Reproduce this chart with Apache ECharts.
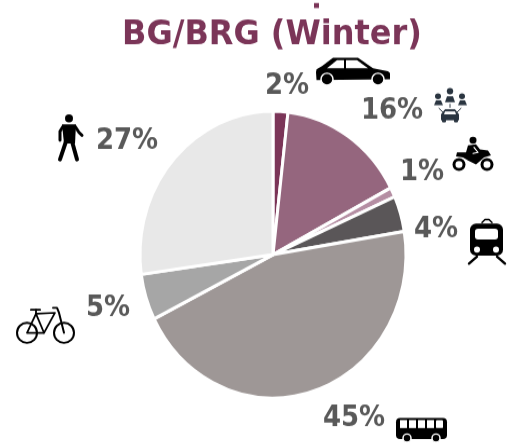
<!DOCTYPE html>
<html><head><meta charset="utf-8">
<style>html,body{margin:0;padding:0;background:#fff;height:446px;width:518px}#c{width:518px;height:414.5px;transform:scaleY(1.076);transform-origin:0 0}</style>
<script src="https://cdn.jsdelivr.net/npm/echarts@6/dist/echarts.min.js"></script>
</head><body><div id="c"></div>
<script>
const titleText = 'BG/BRG (Winter)';
const categories = ['Car','Carpool','Motorcycle','Train','Bus','Bicycle','Walking'];
const values = [1.8,15.5,1.1,4,45.2,5.2,27.2];
const colors = ['#7b3558','#95667e','#b58ea3','#5a5658','#9e9796','#a6a6a6','#e8e8e8'];
const labelCenters = [[287,86],[392,111],[422,172],[436,229],[354,418],[108,308],[127,141]];
const S = 1.076;
const K='#000', W='#fff', D='#2a3540';
const poly=(p,f=K)=>({type:'polygon',shape:{points:p},style:{fill:f},silent:true});
const circ=(x,y,r,f=K,s,lw)=>({type:'circle',shape:{cx:x,cy:y,r},style:{fill:f,stroke:s||null,lineWidth:lw||0},silent:true});
const rect=(x,y,w,h,r,f=K)=>({type:'rect',shape:{x,y,width:w,height:h,r},style:{fill:f},silent:true});
const line=(p,w=2,c=K)=>({type:'polyline',shape:{points:p},style:{fill:null,stroke:c,lineWidth:w,lineCap:'round',lineJoin:'round'},silent:true});
const icons=[
 rect(314,3,5,5,0,'#7b3558'),
 // car
 poly([[316.5,69],[322,66],[333,57.5],[358,57.5],[373,68],[388,71],[390,73],[390,79],[316.5,80],[316,72]]),
 poly([[337,60],[344,60],[344,68],[327,68]],W),poly([[346,60],[357,60],[368,68],[346,68]],W),
 circ(327,79,6,K,W,1.5),circ(378,79,6,K,W,1.5),
 // people and car
 circ(450,91,3.2,D),circ(438,96,3,D),circ(462,96,3,D),
 poly([[445,102],[447,96],[453,96],[455,102]],D),poly([[434,105],[436,100],[441,100],[443,105]],D),poly([[458,105],[460,100],[465,100],[467,105]],D),
 line([[450,104],[450,107]],1,D),line([[439,108],[443,112]],1,D),line([[461,108],[457,112]],1,D),
 poly([[441,120],[441,114],[445,109],[455,109],[459,114],[459,120]],D),rect(442,118,4,4,1,D),rect(454,118,4,4,1,D),poly([[445,111],[455,111],[456,114],[444,114]],W),
 // motorcycle
 circ(459,164,5,W,K,3),circ(487,164,5,W,K,3),
 circ(473,140,3.5),
 poly([[468,145],[476,144],[480,149],[488,150],[491,155],[484,157],[476,164],[468,160],[463,157],[456,156],[457,152],[466,152]]),
 line([[474,147],[478,152],[473,153]],1.2,W),
 // walker
 circ(69,118,4),
 poly([[62,124],[76,124],[75,143],[64,143]]),
 line([[66,141],[60,159]],4),line([[72,141],[77,159]],4),
 line([[63,126],[60,131],[60,140]],3),line([[75,126],[79,132],[82,135]],3),
 // bicycle
 circ(27,332,10,null,K,2),circ(64,332,10,null,K,2),
 line([[27,332],[36,313],[55,312],[44,332],[27,332]],1.8),line([[36,313],[44,332]],1.8),
 line([[31,309],[40,309]],2),line([[36,309],[36,313]],1.8),line([[53,307],[57,307],[59,312],[64,332]],2),
 // train
 line([[482,222],[485,219],[489,219],[492,222]],1.5),
 rect(470,223,33,32,6),rect(475,228,23,11,3,W),circ(477,249,3,W),circ(496,249,3,W),
 line([[477,256],[469,263]],2.4),line([[497,256],[505,263]],2.4),
 // bus
 rect(396,417,51,21,4),
 rect(400,419,7,8,0,W),rect(409,419,7,8,0,W),rect(418,419,7,8,0,W),rect(427,419,7,8,0,W),rect(436,419,7,8,1,W),
 circ(407,437,4,K,W,1.5),circ(436,437,4,K,W,1.5)
];
const chart=echarts.init(document.getElementById('c'),null,{renderer:'canvas',width:518,height:414.5});
chart.setOption({
 animation:false,
 title:{text:titleText,left:267,top:12,textAlign:'center',textStyle:{fontFamily:'DejaVu Sans',fontWeight:'bold',fontSize:32,color:'#7b3558'}},
 graphic:{elements:[{type:'group',x:0,y:0,scaleY:1/S,children:icons}]},
 series:[{
  type:'pie',center:[273,254/S],radius:[0,133],startAngle:90,clockwise:true,
  data:categories.map((c,i)=>({name:c,value:values[i],itemStyle:{color:colors[i]}})),
  itemStyle:{borderColor:'#fff',borderWidth:3},
  label:{show:true,position:'outside',formatter:p=>Math.round(p.value)+'%',fontFamily:'DejaVu Sans',fontWeight:'bold',fontSize:26,color:'#595959'},
  labelLine:{show:false},
  labelLayout:p=>({x:labelCenters[p.dataIndex][0],y:labelCenters[p.dataIndex][1]/S,align:'center',verticalAlign:'middle'}),
  emphasis:{disabled:true}
 }]
});
</script></body></html>
